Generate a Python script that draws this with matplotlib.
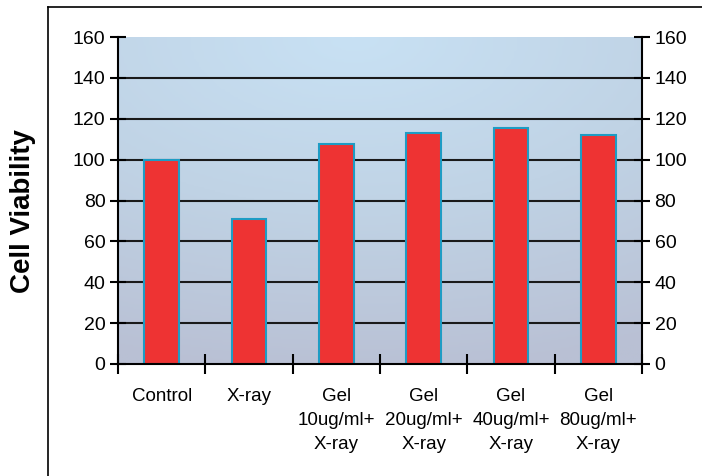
import matplotlib.pyplot as plt
import numpy as np
from matplotlib.colors import LinearSegmentedColormap

categories = ["Control", "X-ray", "Gel\n10ug/ml+\nX-ray", "Gel\n20ug/ml+\nX-ray",
              "Gel\n40ug/ml+\nX-ray", "Gel\n80ug/ml+\nX-ray"]
viability = [100, 71, 107.5, 113, 115.5, 112]
yticks = [0, 20, 40, 60, 80, 100, 120, 140, 160]

plt.rcParams["font.family"] = ["Liberation Sans", "DejaVu Sans"]

fig = plt.figure(figsize=(7.02, 4.76), dpi=100)
ax = fig.add_axes([118 / 702, 1 - 364 / 476, 524 / 702, 327 / 476])

# outer frame (left and top edges only visible)
fig.add_artist(plt.Line2D([48 / 702, 48 / 702], [0, 1 - 7 / 476], color="black", lw=1.2))
fig.add_artist(plt.Line2D([48 / 702, 1], [1 - 7 / 476, 1 - 7 / 476], color="black", lw=1.2))

n = len(categories)
x = np.arange(n)
ax.set_xlim(-0.5, n - 0.5)
ax.set_ylim(0, 160)

# gradient background
gx, gy = np.meshgrid(np.linspace(0, 1, 200), np.linspace(0, 1, 120))
dist = np.sqrt(((gx - 0.45) * 1.0) ** 2 + ((gy - 1.0) * 1.2) ** 2)
cmap = LinearSegmentedColormap.from_list("bg", ["#c8e1f4", "#c0d3e5", "#b9c0d4"])
ax.imshow(dist, cmap=cmap, extent=[-0.5, n - 0.5, 0, 160], origin="lower",
          aspect="auto", zorder=0, vmin=0, vmax=1.25)

for t in yticks[1:-1]:
    ax.axhline(t, color="#1a1a1a", lw=1.5, zorder=1)

ax.bar(x, viability, width=0.4, color="#ee3333", edgecolor="#1e9cc4", linewidth=1.5, zorder=2)

ax.spines["top"].set_visible(False)
for s in ["left", "right", "bottom"]:
    ax.spines[s].set_linewidth(1.5)
    ax.spines[s].set_zorder(3)

ax.set_yticks(yticks)
ax.tick_params(axis="y", which="both", direction="inout", length=12, width=1.5,
               labelsize=14, left=True, right=True, labelleft=True, labelright=True, pad=3)

ax.set_xticks(np.arange(-0.5, n, 1.0))
ax.set_xticklabels([])
ax.tick_params(axis="x", which="major", direction="inout", length=14, width=1.5)
ax.set_xticks(x, minor=True)
ax.set_xticklabels(categories, minor=True, fontsize=13.5, linespacing=1.55)
ax.tick_params(axis="x", which="minor", length=0, pad=17)

fig.text(23 / 702, 1 - 211 / 476, "Cell Viability", rotation=90, fontsize=20,
         fontweight="bold", ha="center", va="center")

fig.savefig("out.png", dpi=100)
